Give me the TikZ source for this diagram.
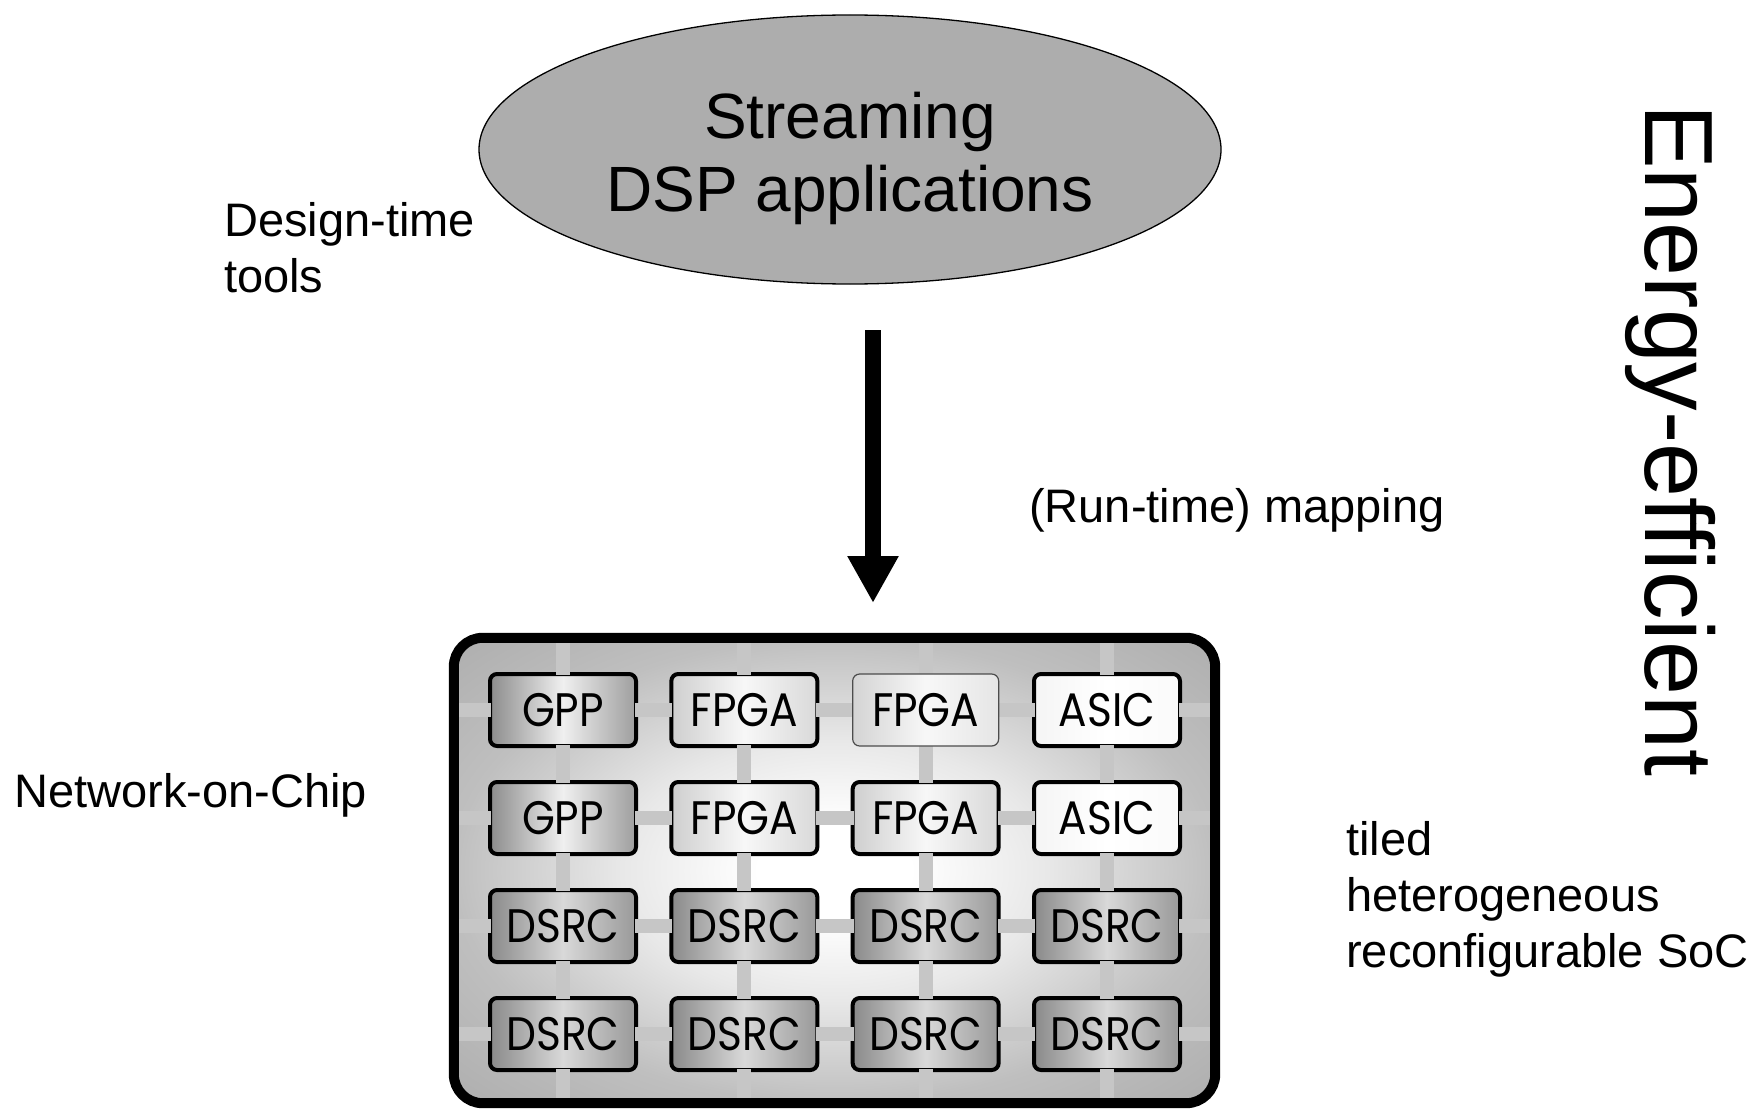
\documentclass[tikz,border=0pt]{standalone}
\usepackage{fontspec}
\setmainfont{Liberation Sans}
\newfontfamily\tilefont[FakeStretch=0.9]{Poppins}
\usetikzlibrary{shapes.geometric,arrows.meta}

\definecolor{appfill}{HTML}{ADADAD}
\definecolor{linkgray}{HTML}{C6C6C6}
\definecolor{chipedge}{HTML}{BFBFBF}
\definecolor{chipcorner}{HTML}{ADADAD}
\definecolor{chipmid}{HTML}{E8E8E8}

% soft glow in the middle of the die
\pgfdeclareradialshading{chipglow}{\pgfpoint{0bp}{0bp}}{%
  color(0bp)=(white); color(5bp)=(white); color(14bp)=(chipmid);
  color(25bp)=(chipedge); color(36bp)=(chipcorner); color(50bp)=(chipcorner)}

\tikzset{
  lbl/.style={font=\fontsize{47}{56}\selectfont, inner sep=0pt, align=left, anchor=base west},
  appell/.style={ellipse, draw=black, line width=1.3pt, fill=appfill,
    minimum width=742pt, minimum height=269pt, inner sep=0pt},
  apptext/.style={font=\fontsize{64}{73}\selectfont, align=center, inner sep=0pt},
  maparrow/.style={line width=16pt, -{Triangle[length=47pt,width=48pt]}},
  link/.style={draw=linkgray, line width=14pt},
  notch/.style={fill=linkgray},
  tilebox/.style={draw=black, line width=4pt, rounded corners=7pt,
    minimum width=146pt, minimum height=72pt, inner sep=0pt,
    font=\tilefont\fontsize{47}{47}\selectfont},
  gpptile/.style={tilebox, left color=black!45, right color=black!38, middle color=black!6},
  fpgatile/.style={tilebox, left color=black!19, right color=black!15, middle color=black!3},
  fpgathin/.style={tilebox, line width=1.2pt, draw=black!70,
    left color=black!17, right color=black!10, middle color=black!3},
  asictile/.style={tilebox, left color=black!4, right color=black!2, middle color=white},
  dsrctile/.style={tilebox, left color=black!46, right color=black!40, middle color=black!15},
  chipborder/.style={draw=black, line width=10pt, rounded corners=29pt},
}

\begin{document}
\begin{tikzpicture}[x=1pt, y=-1pt]
\useasboundingbox[fill=white] (0,0) rectangle (1760,1110);

% application ellipse
\node[appell] (app) at (850,149.5) {};
\node[apptext] (apptxt) at (850,158) {Streaming\\DSP applications};

% side labels (multi-line labels are anchored on their last baseline)
\node[lbl] (design) at (224,292) {Design-time\\tools};
\node[lbl] (runtime) at (1029,522) {(Run-time) mapping};
\node[lbl] (noc) at (14,807) {Network-on-Chip};
\node[lbl] (soc) at (1346,967) {tiled\\heterogeneous\\reconfigurable SoC};
\node[font=\fontsize{97}{97}\selectfont, inner sep=0pt, anchor=base west, rotate=-90]
  (energy) at (1645,104) {Energy-efficient};

% mapping arrow
\coordinate (mapfrom) at (873,330);
\coordinate (mapto) at (873,603);
\draw[maparrow] (mapfrom) -- (mapto);

% die background
\node[shading=chipglow, rounded corners=29pt, minimum width=761pt, minimum height=465pt,
  inner sep=0pt] (chip) at (834.5,870.5) {};

% tile centres
\foreach \r in {1,...,4}
  \foreach \c in {1,...,4}
    \coordinate (p\r\c) at ({563+181.33*(\c-1)},{710+108*(\r-1)});

% network links
\foreach \c in {1,...,4}
  \draw[link] (p1\c |- chip.north) -- (p4\c |- chip.south);
\foreach \r in {1,...,4}
  \draw[link] (chip.west |- p\r1) -- (chip.east |- p\r4);

% processing tiles
\foreach \r/\c/\s/\t in {
  1/1/gpptile/GPP, 1/2/fpgatile/FPGA, 1/3/fpgathin/FPGA, 1/4/asictile/ASIC,
  2/1/gpptile/GPP, 2/2/fpgatile/FPGA, 2/3/fpgatile/FPGA, 2/4/asictile/ASIC,
  3/1/dsrctile/DSRC, 3/2/dsrctile/DSRC, 3/3/dsrctile/DSRC, 3/4/dsrctile/DSRC,
  4/1/dsrctile/DSRC, 4/2/dsrctile/DSRC, 4/3/dsrctile/DSRC, 4/4/dsrctile/DSRC}
  \node[\s] (t\r\c) at (p\r\c) {\t};

% link ports through the tile borders
\foreach \r/\c in {1/1,1/2,1/4,2/1,2/2,2/3,2/4,3/1,3/2,3/3,3/4,4/1,4/2,4/3,4/4} {
  \fill[notch] ([xshift=-7pt,yshift=-3pt]t\r\c.north) rectangle ([xshift=7pt,yshift=3pt]t\r\c.north);
  \fill[notch] ([xshift=-7pt,yshift=-3pt]t\r\c.south) rectangle ([xshift=7pt,yshift=3pt]t\r\c.south);
  \fill[notch] ([xshift=-3pt,yshift=-7pt]t\r\c.west) rectangle ([xshift=3pt,yshift=7pt]t\r\c.west);
  \fill[notch] ([xshift=-3pt,yshift=-7pt]t\r\c.east) rectangle ([xshift=3pt,yshift=7pt]t\r\c.east);
}

% die outline
\draw[chipborder] (chip.south west) rectangle (chip.north east);
\end{tikzpicture}
\end{document}
